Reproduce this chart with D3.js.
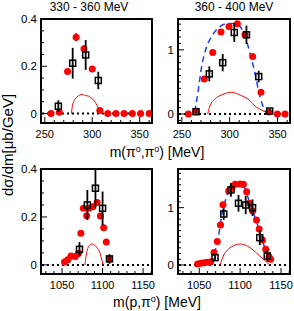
<!DOCTYPE html>
<html>
<head>
<meta charset="utf-8">
<script src="https://cdnjs.cloudflare.com/ajax/libs/d3/7.8.5/d3.min.js"></script>
<style>
body { margin: 0; background: #fff; }
svg { display: block; font-family: "Liberation Sans", Arial, sans-serif; }
</style>
</head>
<body>
<div id="vis"></div>
<script>
// panel titles / axis texts
var titles = ["330 - 360 MeV", "360 - 400 MeV"];

// --- panel 1: m(pi0,pi0), 330-360 MeV
var p1RedX = [256.5, 265.3, 274, 283, 291.3, 300, 308, 316.3, 325, 333.5, 342.3, 351, 360];
var p1RedY = [0, 0.005, 0.178, 0.323, 0.274, 0.188, 0.013, 0, 0, 0, 0, 0, 0];
var p1RedE = [0, 0, 0.01, 0.017, 0.015, 0.01, 0.005, 0, 0, 0, 0, 0, 0];
var p1SqX = [264.3, 279.4, 293.1, 306.4];
var p1SqY = [0.031, 0.213, 0.248, 0.140];
var p1SqE = [0.025, 0.065, 0.063, 0.037];
var p1CurveX = [278, 279, 281, 284, 288, 291, 293, 296, 299, 302, 305, 308, 310];
var p1CurveY = [0, 0.03, 0.055, 0.07, 0.08, 0.079, 0.076, 0.074, 0.066, 0.055, 0.035, 0.012, 0];

// --- panel 2: m(pi0,pi0), 360-400 MeV
var p2RedX = [256.8, 264.8, 273.5, 282.3, 290.9, 299.3, 308, 316, 324, 332.7, 341, 349.8, 357.8];
var p2RedY = [0, 0.036, 0.547, 0.958, 1.277, 1.365, 1.406, 1.234, 0.895, 0.339, 0.03, 0, 0];
var p2RedE = [0, 0, 0.03, 0.03, 0.03, 0.03, 0.03, 0.03, 0.03, 0.03, 0, 0, 0];
var p2SqX = [264.8, 278.7, 292.7, 304.8, 317.5, 330.3, 341.8];
var p2SqY = [0.036, 0.625, 0.80, 1.27, 1.234, 0.583, 0.047];
var p2SqE = [0.02, 0.117, 0.135, 0.148, 0.143, 0.09, 0.02];
var p2BlueX = [263.6, 267.2, 270.7, 276, 281.2, 288, 296.8, 303.8, 310.7, 316, 321.2, 326.4, 331.6, 335, 338.5];
var p2BlueY = [0.036, 0.375, 0.74, 1.05, 1.21, 1.34, 1.406, 1.41, 1.365, 1.21, 0.948, 0.635, 0.27, 0.115, 0.02];
var p2CurveX = [277, 279.4, 284.6, 291.7, 302, 309, 316, 321.2, 326.4, 333.3, 340.3];
var p2CurveY = [0, 0.125, 0.234, 0.297, 0.339, 0.307, 0.26, 0.208, 0.125, 0.062, 0.01];

// --- panel 3: m(p,pi0), 330-360 MeV
var p3RedX = [1053, 1057, 1061, 1066.3, 1070.3, 1073.2, 1076.3, 1080.4, 1083.2, 1088, 1093.2, 1097.3, 1101.3, 1104.6, 1108.5];
var p3RedY = [0.0125, 0.021, 0.0375, 0.035, 0.049, 0.132, 0.236, 0.205, 0.236, 0.243, 0.26, 0.204, 0.155, 0.095, 0.025];
var p3RedE = [0, 0, 0, 0, 0, 0.006, 0.008, 0.008, 0.008, 0.008, 0.008, 0.008, 0.006, 0.005, 0];
var p3SqX = [1071.5, 1081.2, 1091.2, 1100, 1108.5];
var p3SqY = [0.065, 0.25, 0.32, 0.236, 0.025];
var p3SqE = [0.03, 0.0625, 0.08, 0.07, 0.02];
var p3CurveX = [1078.3, 1079.5, 1081.2, 1083.5, 1086.4, 1089, 1091.2, 1093, 1095.2, 1097, 1098, 1099.5, 1100.5];
var p3CurveY = [0, 0.035, 0.0625, 0.08, 0.0875, 0.085, 0.08, 0.072, 0.0625, 0.048, 0.035, 0.015, 0];

// --- panel 4: m(p,pi0), 360-400 MeV
var p4RedX = [1048, 1052, 1056, 1060, 1064, 1068, 1072, 1076, 1079, 1086, 1090, 1094, 1100, 1104, 1108, 1111.3, 1115.2, 1120, 1123.3, 1127.3, 1131.3, 1135.3, 1137.3];
var p4RedY = [0.017, 0.03, 0.04, 0.05, 0.058, 0.22, 0.41, 0.70, 1.05, 1.29, 1.338, 1.408, 1.414, 1.408, 1.28, 1.077, 0.942, 0.785, 0.628, 0.436, 0.274, 0.145, 0.099];
var p4SqX = [1069.3, 1080, 1088.8, 1098, 1106.8, 1115.2, 1124, 1133.2];
var p4SqY = [0.128, 0.89, 1.31, 1.077, 1.047, 1.0, 0.477, 0.157];
var p4SqE = [0.04, 0.1, 0.12, 0.145, 0.16, 0.145, 0.13, 0.1];
var p4BlueX = [1066, 1070, 1074, 1078, 1082, 1087.3, 1094, 1100, 1106, 1110, 1114, 1118, 1122, 1126, 1130, 1134, 1138];
var p4BlueY = [0.02, 0.27, 0.55, 0.9, 1.13, 1.32, 1.38, 1.37, 1.34, 1.16, 0.99, 0.84, 0.67, 0.48, 0.31, 0.175, 0.07];
var p4CurveX = [1075.3, 1080, 1086, 1092, 1100, 1108, 1116, 1124, 1132, 1136];
var p4CurveY = [0, 0.175, 0.28, 0.337, 0.366, 0.337, 0.26, 0.157, 0.058, 0];

// tick values
var topXTicks = [250, 300, 350];
var botXTicks = [1050, 1100, 1150];
var smallYTicks = [0, 0.2, 0.4];
var bigYTicks = [0, 1];

var width = 294, height = 311;

var svg = d3.select("#vis").append("svg")
	.attr("width", width)
	.attr("height", height);

function zip(xs, ys, es) {
	return xs.map(function(x, i) { return {x: x, y: ys[i], e: es ? es[i] : 0}; });
}

// 0 -> "0", others with one decimal
var fmtSmall = function(d) { return d === 0 ? "0" : d3.format(".1f")(d); };

var panels = [
	{ x0: 41, x1: 152, y0: 19, y1: 123, xd: [246, 363], yd: [-0.04, 0.4],
	  xt: topXTicks, xm: 10, yt: smallYTicks, ym: 0.05, fmt: fmtSmall,
	  red: zip(p1RedX, p1RedY, p1RedE), sq: zip(p1SqX, p1SqY, p1SqE),
	  curve: zip(p1CurveX, p1CurveY), blue: null },
	{ x0: 178, x1: 290, y0: 19, y1: 123, xd: [246, 363], yd: [-0.14, 1.48],
	  xt: topXTicks, xm: 10, yt: bigYTicks, ym: 0.1, fmt: d3.format("d"),
	  red: zip(p2RedX, p2RedY, p2RedE), sq: zip(p2SqX, p2SqY, p2SqE),
	  curve: zip(p2CurveX, p2CurveY), blue: zip(p2BlueX, p2BlueY) },
	{ x0: 41, x1: 152, y0: 169, y1: 274, xd: [1024, 1161], yd: [-0.038, 0.4],
	  xt: botXTicks, xm: 10, yt: smallYTicks, ym: 0.05, fmt: fmtSmall,
	  red: zip(p3RedX, p3RedY, p3RedE), sq: zip(p3SqX, p3SqY, p3SqE),
	  curve: zip(p3CurveX, p3CurveY), blue: null },
	{ x0: 178, x1: 290, y0: 169, y1: 274, xd: [1024, 1161], yd: [-0.157, 1.675],
	  xt: botXTicks, xm: 10, yt: bigYTicks, ym: 0.1, fmt: d3.format("d"),
	  red: zip(p4RedX, p4RedY), sq: zip(p4SqX, p4SqY, p4SqE),
	  curve: zip(p4CurveX, p4CurveY), blue: zip(p4BlueX, p4BlueY) }
];

panels.forEach(function(p) {
	var x = d3.scaleLinear().domain(p.xd).range([p.x0, p.x1]);
	var y = d3.scaleLinear().domain(p.yd).range([p.y1, p.y0]);
	var g = svg.append("g");

	// minor + major ticks, pointing inside
	var xMinor = d3.range(Math.ceil(p.xd[0] / p.xm) * p.xm, p.xd[1], p.xm);
	g.selectAll(".xmin").data(xMinor).enter().append("line")
		.attr("x1", d => x(d)).attr("x2", d => x(d))
		.attr("y1", p.y1).attr("y2", d => p.y1 - (p.xt.indexOf(d) >= 0 ? 6 : 3))
		.attr("stroke", "#000").attr("stroke-width", 1);
	var yMinor = d3.range(Math.ceil(p.yd[0] / p.ym - 1e-6), Math.floor(p.yd[1] / p.ym + 1e-6) + 1)
		.map(k => +(k * p.ym).toFixed(3));
	g.selectAll(".ymin").data(yMinor).enter().append("line")
		.attr("x1", p.x0).attr("x2", d => p.x0 + (p.yt.indexOf(d) >= 0 ? 6 : 3))
		.attr("y1", d => y(d)).attr("y2", d => y(d))
		.attr("stroke", "#000").attr("stroke-width", 1);

	// tick labels
	g.selectAll(".xl").data(p.xt).enter().append("text")
		.attr("x", d => x(d)).attr("y", p.y1 + 15)
		.attr("text-anchor", "middle").style("font-size", "11px")
		.text(d => d);
	g.selectAll(".yl").data(p.yt).enter().append("text")
		.attr("x", p.x0 - 4).attr("y", d => y(d) + 4)
		.attr("text-anchor", "end").style("font-size", "11.5px")
		.text(d => p.fmt(d));

	// dotted zero line
	g.append("line")
		.attr("x1", p.x0 + 1).attr("x2", p.x1)
		.attr("y1", y(0)).attr("y2", y(0))
		.attr("stroke", "#000").attr("stroke-width", 2)
		.attr("stroke-dasharray", "2,3");

	var line = d3.line().x(d => x(d.x)).y(d => y(d.y)).curve(d3.curveMonotoneX);

	// red solid model curve
	g.append("path").attr("d", line(p.curve))
		.attr("fill", "none").attr("stroke", "#f00").attr("stroke-width", 1);

	// blue dashed curve
	if (p.blue) {
		g.append("path").attr("d", line(p.blue))
			.attr("fill", "none").attr("stroke", "#1f3fff").attr("stroke-width", 1.5)
			.attr("stroke-dasharray", "6,4");
	}

	// red points with error bars
	g.selectAll(".re").data(p.red.filter(d => d.e > 0)).enter().append("line")
		.attr("x1", d => x(d.x)).attr("x2", d => x(d.x))
		.attr("y1", d => y(d.y - d.e)).attr("y2", d => y(d.y + d.e))
		.attr("stroke", "#000").attr("stroke-width", 1.5);
	g.selectAll(".rd").data(p.red).enter().append("circle")
		.attr("cx", d => x(d.x)).attr("cy", d => y(d.y)).attr("r", 3.5)
		.attr("fill", "#f00");

	// open squares with error bars
	g.selectAll(".se").data(p.sq).enter().append("line")
		.attr("x1", d => x(d.x)).attr("x2", d => x(d.x))
		.attr("y1", d => y(d.y - d.e)).attr("y2", d => y(d.y + d.e))
		.attr("stroke", "#000").attr("stroke-width", 1.8);
	g.selectAll(".sq").data(p.sq).enter().append("rect")
		.attr("x", d => x(d.x) - 3).attr("y", d => y(d.y) - 3)
		.attr("width", 6).attr("height", 6)
		.attr("fill", "none").attr("stroke", "#000").attr("stroke-width", 1.5);

	// frame
	g.append("rect")
		.attr("x", p.x0).attr("y", p.y0)
		.attr("width", p.x1 - p.x0).attr("height", p.y1 - p.y0)
		.attr("fill", "none").attr("stroke", "#000").attr("stroke-width", 2);
});

// titles
svg.selectAll(".title").data(titles).enter().append("text")
	.attr("x", (d, i) => i === 0 ? 89 : 234)
	.attr("y", 11)
	.attr("text-anchor", "middle")
	.style("font-size", "12px")
	.text(d => d);

// axis titles
function massTitle(yPos, first) {
	var t = svg.append("text")
		.attr("x", 157).attr("y", yPos)
		.attr("text-anchor", "middle")
		.style("font-size", "14px");
	t.append("tspan").text("m(" + first);
	t.append("tspan").attr("dy", -5).style("font-size", "9px").text(first === "π" ? "o" : "");
	t.append("tspan").attr("dy", first === "π" ? 5 : 0).text(first === "π" ? ",π" : "");
	t.append("tspan").attr("dy", -5).style("font-size", "9px").text("o");
	t.append("tspan").attr("dy", 5).text(") [MeV]");
}
massTitle(157, "π");
massTitle(307, "p,π");

svg.append("text")
	.attr("transform", "translate(13,145) rotate(-90)")
	.attr("text-anchor", "middle")
	.style("font-size", "15px")
	.text("dσ/dm[μb/GeV]");
</script>
</body>
</html>
